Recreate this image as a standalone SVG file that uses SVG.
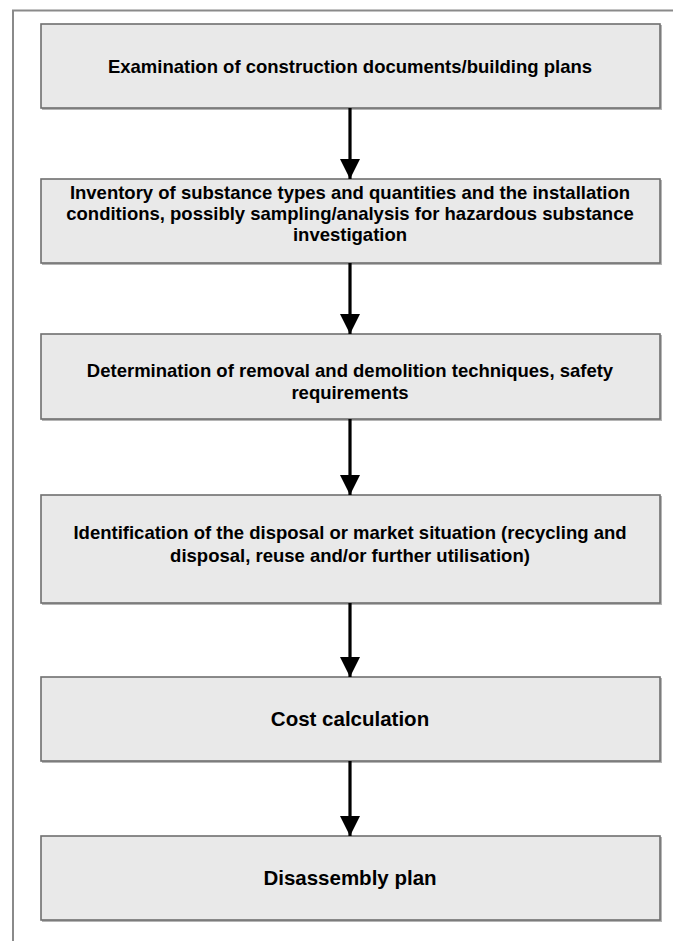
<svg xmlns="http://www.w3.org/2000/svg" width="673" height="941" viewBox="0 0 673 941">
  <defs>
    <marker id="head" viewBox="0 0 20 20" refX="20" refY="10" markerWidth="20" markerHeight="20" markerUnits="userSpaceOnUse" orient="auto">
      <path d="M0,0 L20,10 L0,20 Z" fill="#000"/>
    </marker>
    <style>
      .frame { fill: none; stroke: #8a8a8a; stroke-width: 2; }
      .box { fill: #e9e9e9; stroke: #6f6f6f; stroke-width: 1.6; }
      .shadow { fill: #b5b5b5; }
      .label { font-family: "Liberation Sans", Arial, sans-serif; font-weight: bold; font-size: 18.5px; fill: #000; text-anchor: middle; }
      .big { font-size: 20.5px; }
      .link { stroke: #000; stroke-width: 3.2; fill: none; marker-end: url(#head); }
    </style>
  </defs>

  <rect width="673" height="941" fill="#fff"/>

  <!-- outer frame, open to the right and bottom -->
  <path class="frame" d="M13,941 L13,10.5 L673,10.5"/>

  <g id="n1">
    <rect class="shadow" x="42" y="25" width="620" height="85"/>
    <rect class="box" x="41" y="24" width="619" height="84"/>
    <text class="label" x="350" y="73">Examination of construction documents/building plans</text>
  </g>

  <g id="n2">
    <rect class="shadow" x="42" y="180" width="620" height="85"/>
    <rect class="box" x="41" y="179" width="619" height="84"/>
    <text class="label" x="350" y="199">Inventory of substance types and quantities and the installation</text>
    <text class="label" x="350" y="220">conditions, possibly sampling/analysis for hazardous substance</text>
    <text class="label" x="350" y="241">investigation</text>
  </g>

  <g id="n3">
    <rect class="shadow" x="42" y="335" width="620" height="86"/>
    <rect class="box" x="41" y="334" width="619" height="85"/>
    <text class="label" x="350" y="377">Determination of removal and demolition techniques, safety</text>
    <text class="label" x="350" y="399">requirements</text>
  </g>

  <g id="n4">
    <rect class="shadow" x="42" y="496" width="620" height="109"/>
    <rect class="box" x="41" y="495" width="619" height="108"/>
    <text class="label" x="350" y="539">Identification of the disposal or market situation (recycling and</text>
    <text class="label" x="350" y="562">disposal, reuse and/or further utilisation)</text>
  </g>

  <g id="n5">
    <rect class="shadow" x="42" y="678" width="620" height="85"/>
    <rect class="box" x="41" y="677" width="619" height="84"/>
    <text class="label big" x="350" y="726">Cost calculation</text>
  </g>

  <g id="n6">
    <rect class="shadow" x="42" y="837" width="620" height="85"/>
    <rect class="box" x="41" y="836" width="619" height="84"/>
    <text class="label big" x="350" y="885">Disassembly plan</text>
  </g>

  <g id="connectors">
    <line class="link" x1="350" y1="108" x2="350" y2="179"/>
    <line class="link" x1="350" y1="263" x2="350" y2="334"/>
    <line class="link" x1="350" y1="419" x2="350" y2="495"/>
    <line class="link" x1="350" y1="603" x2="350" y2="677"/>
    <line class="link" x1="350" y1="761" x2="350" y2="836"/>
  </g>
</svg>
